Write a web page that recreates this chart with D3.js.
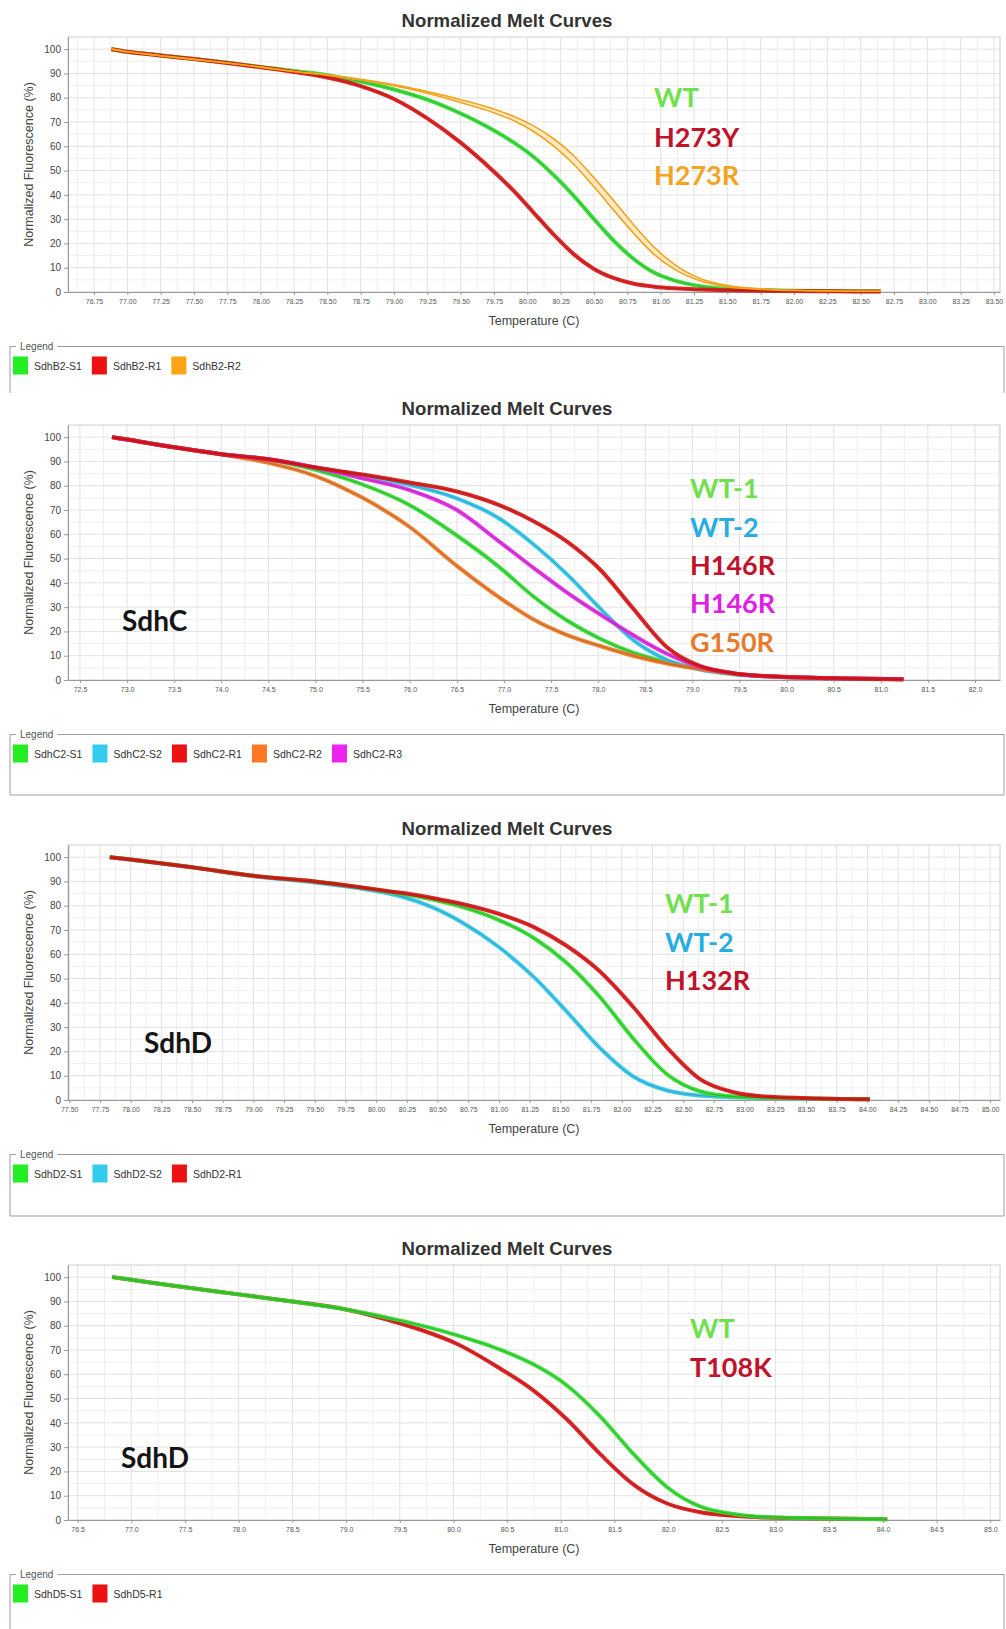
<!DOCTYPE html>
<html>
<head>
<meta charset="utf-8">
<script src="https://cdn.jsdelivr.net/npm/d3@7"></script>
<style>
  body { margin: 0; background: #fff; }
  svg { display: block; }
</style>
</head>
<body>
<svg id="chart" width="1006" height="1629"></svg>
<script>
// ---------------- data ----------------
const yTicks = [0, 10, 20, 30, 40, 50, 60, 70, 80, 90, 100];

// SdhB panel
const ticksA = [76.75, 77.00, 77.25, 77.50, 77.75, 78.00, 78.25, 78.50, 78.75, 79.00, 79.25, 79.50, 79.75, 80.00,
                80.25, 80.50, 80.75, 81.00, 81.25, 81.50, 81.75, 82.00, 82.25, 82.50, 82.75, 83.00, 83.25, 83.50];
const tempsA = [76.88, 77.0, 77.25, 77.5, 77.75, 78.0, 78.25, 78.5, 78.75, 79.0, 79.25, 79.5, 79.75, 79.9,
                80.05, 80.2, 80.35, 80.5, 80.65, 80.8, 80.95, 81.1, 81.3, 81.5, 81.75, 82.0, 82.3, 82.65];
const sdhB2_S1  = [100, 98.9, 97.4, 95.9, 94.4, 92.7, 91.0, 89.3, 86.7, 83.4, 79.2, 73.5, 66.5, 61.5,
                   55.5, 48.0, 39.5, 30.0, 21.0, 13.5, 8.0, 4.8, 2.4, 1.3, 0.8, 0.5, 0.4, 0.3];
const sdhB2_R1  = [100, 98.9, 97.4, 95.9, 94.3, 92.5, 90.6, 88.3, 84.8, 79.5, 71.5, 61.5, 49.5, 41.5,
                   32.5, 23.5, 15.5, 9.5, 5.7, 3.4, 2.2, 1.5, 1.0, 0.7, 0.5, 0.4, 0.3, 0.2];
const sdhB2_R2a = [100, 98.9, 97.3, 95.8, 94.3, 92.6, 90.8, 89.4, 87.6, 85.4, 82.5, 79.2, 75.3, 72.3,
                   68.3, 63.0, 56.0, 47.0, 37.5, 27.5, 18.5, 11.5, 5.5, 2.7, 1.3, 0.7, 0.4, 0.3];
const sdhB2_R2b = [100, 98.9, 97.3, 95.8, 94.3, 92.6, 90.8, 89.3, 87.3, 84.9, 81.8, 78.0, 73.8, 70.5,
                   66.0, 60.0, 52.5, 43.3, 33.5, 24.0, 15.5, 9.5, 4.5, 2.2, 1.1, 0.6, 0.4, 0.3];
const legendA = ["SdhB2-S1", "SdhB2-R1", "SdhB2-R2"];
const labelsA = ["WT", "H273Y", "H273R"];

// SdhC panel
const ticksB = [72.5, 73.0, 73.5, 74.0, 74.5, 75.0, 75.5, 76.0, 76.5, 77.0,
                77.5, 78.0, 78.5, 79.0, 79.5, 80.0, 80.5, 81.0, 81.5, 82.0];
const tempsB = [72.84, 73.0, 73.5, 74.0, 74.5, 75.0, 75.5, 76.0, 76.5, 76.95,
                77.31, 77.67, 78.02, 78.37, 78.73, 79.08, 79.43, 79.79, 80.5, 81.24];
const sdhC2_S1 = [100, 99, 95.8, 93, 90.8, 86.5, 80.5, 72.0, 59.5, 46.5, 34.5, 24.5, 17.0, 11.3, 7.4, 4.6, 2.6, 1.5, 0.7, 0.3];
const sdhC2_S2 = [100, 99, 95.8, 93, 90.9, 87.5, 84.2, 80.3, 74.8, 66.5, 56.0, 43.5, 29.5, 16.5, 8.3, 4.3, 2.4, 1.5, 0.7, 0.3];
const sdhC2_R1 = [100, 99, 95.8, 93, 90.9, 87.5, 84.6, 81.3, 77.6, 72.0, 65.5, 57.0, 45.5, 29.5, 13.5, 5.8, 2.8, 1.6, 0.7, 0.3];
const sdhC2_R2 = [100, 99, 95.8, 92.9, 89.4, 84.0, 75.0, 63.0, 47.0, 34.0, 25.0, 18.5, 14.0, 10.0, 6.8, 4.5, 2.6, 1.5, 0.7, 0.3];
const sdhC2_R3 = [100, 99, 95.8, 93, 90.9, 87.5, 83.0, 78.2, 70.0, 57.0, 46.3, 36.0, 27.0, 18.5, 10.8, 5.4, 2.8, 1.5, 0.7, 0.3];
const legendB = ["SdhC2-S1", "SdhC2-S2", "SdhC2-R1", "SdhC2-R2", "SdhC2-R3"];
const labelsB = ["WT-1", "WT-2", "H146R", "H146R", "G150R"];

// SdhD panel (H132R)
const ticksC = [77.50, 77.75, 78.00, 78.25, 78.50, 78.75, 79.00, 79.25, 79.50, 79.75, 80.00, 80.25, 80.50, 80.75, 81.00, 81.25,
                81.50, 81.75, 82.00, 82.25, 82.50, 82.75, 83.00, 83.25, 83.50, 83.75, 84.00, 84.25, 84.50, 84.75, 85.00];
const tempsC = [77.83, 78.0, 78.5, 79.0, 79.5, 79.97, 80.22, 80.46, 80.71, 80.99,
                81.28, 81.55, 81.82, 82.09, 82.37, 82.64, 82.91, 83.18, 83.6, 84.02];
const sdhD2_S1 = [100, 99, 95.8, 92.3, 90.0, 86.8, 84.8, 82.5, 79.3, 74.3, 66.8, 56.5, 42.5, 25.5, 10.5, 3.5, 1.4, 0.9, 0.5, 0.3];
const sdhD2_S2 = [100, 99, 95.8, 92.2, 89.6, 86.3, 83.6, 79.3, 72.8, 63.3, 50.8, 36.5, 21.5, 9.8, 3.9, 1.8, 1.1, 0.8, 0.5, 0.3];
const sdhD2_R1 = [100, 99, 95.8, 92.3, 90.0, 86.9, 85.2, 83.2, 80.6, 76.8, 71.3, 63.5, 53.0, 38.5, 21.5, 8.5, 3.2, 1.4, 0.6, 0.3];
const legendC = ["SdhD2-S1", "SdhD2-S2", "SdhD2-R1"];
const labelsC = ["WT-1", "WT-2", "H132R"];

// SdhD panel (T108K)
const ticksD = [76.5, 77.0, 77.5, 78.0, 78.5, 79.0, 79.5, 80.0, 80.5, 81.0, 81.5, 82.0, 82.5, 83.0, 83.5, 84.0, 84.5, 85.0];
const tempsD = [76.82, 77.0, 77.5, 78.0, 78.5, 79.0, 79.5, 79.78, 80.02, 80.43,
                80.74, 81.06, 81.37, 81.68, 81.99, 82.3, 82.61, 82.92, 83.5, 84.04];
const sdhD5_S1 = [100, 98.9, 95.8, 92.9, 90.0, 86.7, 82.2, 79.2, 76.2, 70.2, 64.2, 55.3, 42.5, 27.0, 13.5, 5.5, 2.5, 1.2, 0.6, 0.3];
const sdhD5_R1 = [100, 98.9, 95.8, 92.9, 90.0, 86.7, 81.0, 77.0, 72.8, 62.5, 53.5, 41.3, 27.0, 14.5, 6.8, 3.2, 1.7, 1.0, 0.6, 0.3];
const legendD = ["SdhD5-S1", "SdhD5-R1"];
const labelsD = ["WT", "T108K"];

const tags = ["", "SdhC", "SdhD", "SdhD"];

// ---------------- styling ----------------
const C = {
  green:   { line: "#2fdc2f", key: "#22ee22", text: "#6fe04e" },
  red:     { line: "#dc1616", key: "#ee1111", text: "#c0122a" },
  orange:  { line: "#f3a31c", key: "#ffa514", text: "#f4a324" },
  cyan:    { line: "#2ec6ec", key: "#33ccee", text: "#27ade2" },
  orange2: { line: "#ef7624", key: "#ff7722", text: "#e77b2c" },
  magenta: { line: "#e326e3", key: "#ee22ee", text: "#e020e4" }
};

const zip = (t, v) => t.map((d, i) => ({ t: d, v: v[i] }));

const panels = [
  {
    top: 37, x0: 76.555, x1: 83.545, ticks: ticksA, fmt: ".2f", legendBottom: null, legendSideEnd: 393,
    series: [
      { data: zip(tempsA, sdhB2_S1), c: C.green },
      { data: zip(tempsA, sdhB2_R1), c: C.red },
      { pair: [zip(tempsA, sdhB2_R2a), zip(tempsA, sdhB2_R2b)], c: C.orange }
    ],
    keys: [[legendA[0], C.green], [legendA[1], C.red], [legendA[2], C.orange]],
    labels: { x: 654, base: [70, 110, 148], items: [[labelsA[0], C.green], [labelsA[1], C.red], [labelsA[2], C.orange]] },
    tag: null
  },
  {
    top: 425, x0: 72.373, x1: 82.265, ticks: ticksB, fmt: ".1f", legendBottom: 795,
    series: [
      { data: zip(tempsB, sdhC2_S1), c: C.green },
      { data: zip(tempsB, sdhC2_S2), c: C.cyan },
      { data: zip(tempsB, sdhC2_R2), c: C.orange2 },
      { data: zip(tempsB, sdhC2_R3), c: C.magenta },
      { data: zip(tempsB, sdhC2_R1), c: C.red }
    ],
    keys: [[legendB[0], C.green], [legendB[1], C.cyan], [legendB[2], C.red], [legendB[3], C.orange2], [legendB[4], C.magenta]],
    labels: { x: 690, base: [73, 112, 150, 188, 227],
              items: [[labelsB[0], C.green], [labelsB[1], C.cyan], [labelsB[2], C.red], [labelsB[3], C.magenta], [labelsB[4], C.orange2]] },
    tag: { text: tags[1], x: 122, base: 206 }
  },
  {
    top: 845, x0: 77.49, x1: 85.08, ticks: ticksC, fmt: ".2f", legendBottom: 1216,
    series: [
      { data: zip(tempsC, sdhD2_S2), c: C.cyan },
      { data: zip(tempsC, sdhD2_S1), c: C.green },
      { data: zip(tempsC, sdhD2_R1), c: C.red }
    ],
    keys: [[legendC[0], C.green], [legendC[1], C.cyan], [legendC[2], C.red]],
    labels: { x: 665, base: [68, 107, 145], items: [[labelsC[0], C.green], [labelsC[1], C.cyan], [labelsC[2], C.red]] },
    tag: { text: tags[2], x: 144, base: 208 }
  },
  {
    top: 1265, x0: 76.41, x1: 85.09, ticks: ticksD, fmt: ".1f", legendBottom: null, legendSideEnd: 1629,
    series: [
      { data: zip(tempsD, sdhD5_R1), c: C.red },
      { data: zip(tempsD, sdhD5_S1), c: C.green }
    ],
    keys: [[legendD[0], C.green], [legendD[1], C.red]],
    labels: { x: 690, base: [73, 112], items: [[labelsD[0], C.green], [labelsD[1], C.red]] },
    tag: { text: tags[3], x: 121, base: 203 }
  }
];

// ---------------- drawing ----------------
const svg = d3.select("#chart");
const L = 68, R = 1000, H = 255;
const sans = "'Liberation Sans', Arial, sans-serif";
const big = "Lato, 'Open Sans', sans-serif";

panels.forEach(p => {
  const g = svg.append("g");
  const x = d3.scaleLinear().domain([p.x0, p.x1]).range([L, R]);
  const y = d3.scaleLinear().domain([0, 105]).range([p.top + H, p.top]);
  const bottom = p.top + H;

  // title
  g.append("text").attr("x", 507).attr("y", p.top - 10)
    .attr("text-anchor", "middle").attr("font-family", sans).attr("font-weight", "bold")
    .attr("font-size", 18.6).attr("fill", "#333").text("Normalized Melt Curves");

  // grid: major lines on ticks, minor lines halfway between
  const step = p.ticks[1] - p.ticks[0];
  const minorX = [];
  for (let i = -1; i < p.ticks.length; i++) {
    const m = p.ticks[0] + (i + 0.5) * step;
    if (m > p.x0 && m < p.x1) minorX.push(m);
  }
  const minorY = yTicks.map(d => d + 5).filter(d => d < 105);
  g.append("g").selectAll("line").data(minorX).join("line")
    .attr("x1", d => x(d)).attr("x2", d => x(d)).attr("y1", p.top).attr("y2", bottom)
    .attr("stroke", "#efefef").attr("stroke-width", 1);
  g.append("g").selectAll("line").data(minorY).join("line")
    .attr("x1", L).attr("x2", R).attr("y1", d => y(d)).attr("y2", d => y(d))
    .attr("stroke", "#efefef").attr("stroke-width", 1);
  g.append("g").selectAll("line").data(p.ticks).join("line")
    .attr("x1", d => x(d)).attr("x2", d => x(d)).attr("y1", p.top).attr("y2", bottom)
    .attr("stroke", "#e2e2e2").attr("stroke-width", 1);
  g.append("g").selectAll("line").data(yTicks.slice(1)).join("line")
    .attr("x1", L).attr("x2", R).attr("y1", d => y(d)).attr("y2", d => y(d))
    .attr("stroke", "#e2e2e2").attr("stroke-width", 1);

  // frame
  g.append("rect").attr("x", L).attr("y", p.top).attr("width", R - L).attr("height", H)
    .attr("fill", "none").attr("stroke", "#cfcfcf");

  // axes
  const xa = g.append("g").attr("transform", `translate(0,${bottom})`)
    .call(d3.axisBottom(x).tickValues(p.ticks).tickFormat(d3.format(p.fmt)).tickSize(3).tickSizeOuter(0));
  xa.select(".domain").attr("stroke", "#9a9a9a");
  xa.selectAll(".tick line").attr("stroke", "#9a9a9a");
  xa.selectAll(".tick text").attr("font-family", sans).attr("font-size", 7).attr("fill", "#555").attr("dy", "0.9em");

  const ya = g.append("g").attr("transform", `translate(${L},0)`)
    .call(d3.axisLeft(y).tickValues(yTicks).tickSize(4).tickSizeOuter(0));
  ya.select(".domain").attr("stroke", "#9a9a9a");
  ya.selectAll(".tick line").attr("stroke", "#9a9a9a");
  ya.selectAll(".tick text").attr("font-family", sans).attr("font-size", 10).attr("fill", "#444").attr("x", -7);

  // axis titles
  g.append("text").attr("x", (L + R) / 2).attr("y", bottom + 32.5).attr("text-anchor", "middle")
    .attr("font-family", sans).attr("font-size", 12.5).attr("fill", "#444").text("Temperature (C)");
  g.append("text").attr("transform", `translate(29,${p.top + H / 2}) rotate(-90)`)
    .attr("text-anchor", "middle").attr("dominant-baseline", "central")
    .attr("font-family", sans).attr("font-size", 12.5).attr("fill", "#444").text("Normalized Fluorescence (%)");

  // melt curves
  const line = d3.line().x(d => x(d.t)).y(d => y(d.v)).curve(d3.curveMonotoneX);
  const curves = g.append("g");
  p.series.forEach(s => {
    if (s.pair) {
      const area = d3.area().x(d => x(d.t)).y0((d, i) => y(s.pair[1][i].v)).y1(d => y(d.v)).curve(d3.curveMonotoneX);
      curves.append("path").attr("d", area(s.pair[0])).attr("fill", "#f9e3b4").attr("opacity", 0.7);
      s.pair.forEach(rep => {
        curves.append("path").attr("d", line(rep)).attr("fill", "none")
          .attr("stroke", s.c.line).attr("stroke-width", 1.6);
      });
    } else {
      curves.append("path").attr("d", line(s.data)).attr("fill", "none")
        .attr("stroke", s.c.line).attr("stroke-width", 4).attr("stroke-linejoin", "round").attr("opacity", 0.92);
      curves.append("path").attr("d", line(s.data)).attr("fill", "none")
        .attr("stroke", d3.color(s.c.line).darker(1.3)).attr("stroke-width", 0.9).attr("opacity", 0.55);
    }
  });

  // in-plot labels
  p.labels.items.forEach((it, i) => {
    g.append("text").attr("x", p.labels.x).attr("y", p.top + p.labels.base[i])
      .attr("font-family", big).attr("font-weight", 700).attr("font-size", 27)
      .attr("fill", it[1].text).text(it[0]);
  });
  if (p.tag) {
    g.append("text").attr("x", p.tag.x).attr("y", p.top + p.tag.base)
      .attr("font-family", big).attr("font-weight", 700).attr("font-size", 28)
      .attr("fill", "#151515").text(p.tag.text);
  }

  // legend box
  const lt = bottom + 54.5;
  const lb = p.legendBottom;
  const sideEnd = lb != null ? lb : p.legendSideEnd;
  const lg = g.append("g");
  const title = lg.append("text").attr("x", 20).attr("y", lt + 3.5)
    .attr("font-family", sans).attr("font-size", 10).attr("fill", "#555").text("Legend");
  const tw = title.node().getComputedTextLength();
  lg.append("path")
    .attr("d", `M16,${lt}H10V${sideEnd}` + (lb != null ? `H1004` : `M1004,${sideEnd}`) + `V${lt}H${20 + tw + 4}`)
    .attr("fill", "none").attr("stroke", "#9c9c9c").attr("stroke-width", 1);

  let kx = 13;
  const ky = lt + 19;
  p.keys.forEach(k => {
    lg.append("rect").attr("x", kx).attr("y", ky - 9).attr("width", 15).attr("height", 18).attr("fill", k[1].key);
    const t = lg.append("text").attr("x", kx + 21).attr("y", ky).attr("dominant-baseline", "central")
      .attr("font-family", sans).attr("font-size", 10.5).attr("fill", "#333").text(k[0]);
    kx = kx + 21 + t.node().getComputedTextLength() + 10;
  });
});
</script>
</body>
</html>
